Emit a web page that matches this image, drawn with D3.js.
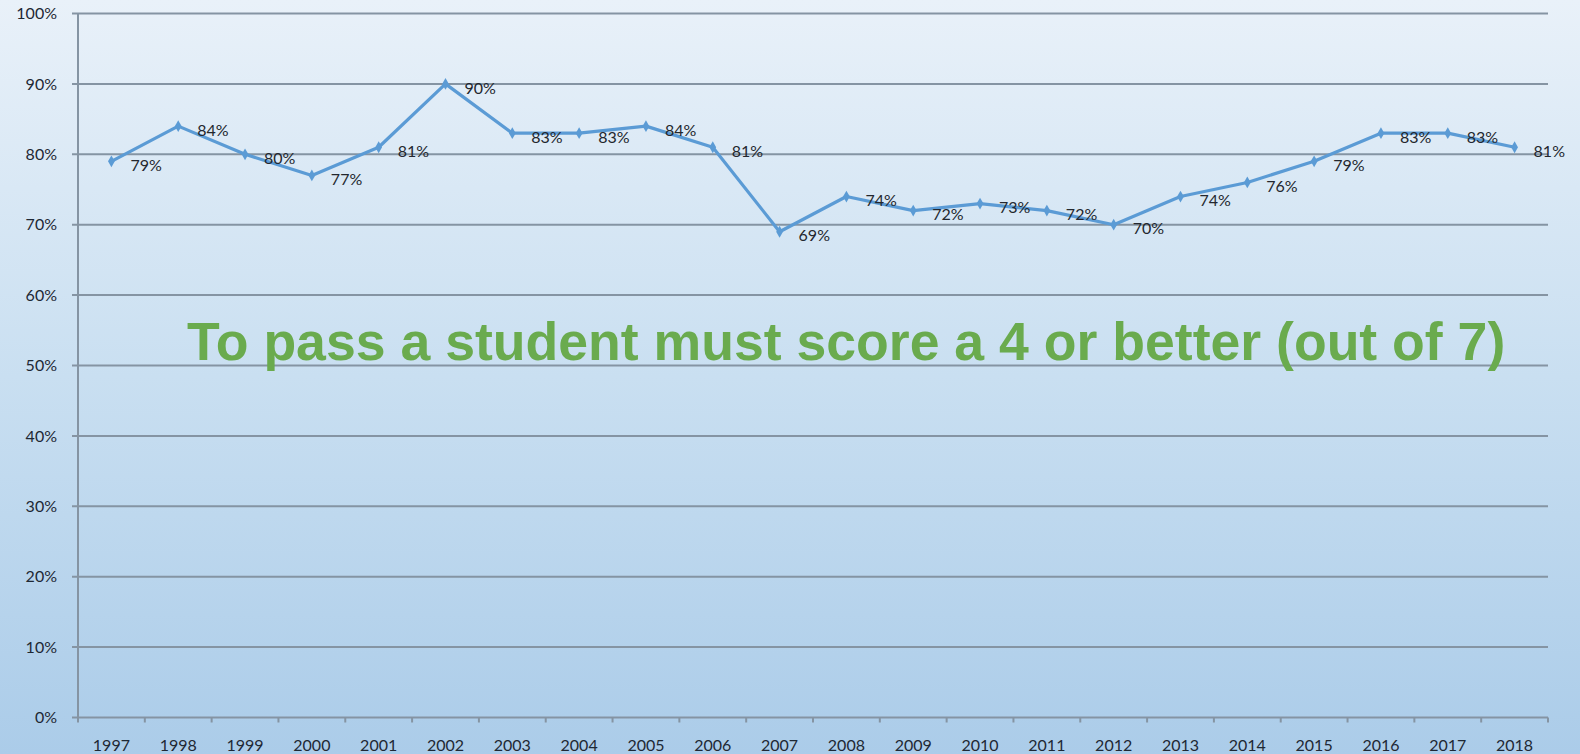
<!DOCTYPE html>
<html>
<head>
<meta charset="utf-8">
<script src="https://cdn.jsdelivr.net/npm/d3@7"></script>
<style>
  html, body { margin: 0; padding: 0; overflow: hidden; }
  body { width: 1580px; height: 754px; }
  svg { display: block; }
</style>
</head>
<body>
<div id="chart"></div>
<script>
// Pass rate by year
const years = ['1997', '1998', '1999', '2000', '2001', '2002', '2003', '2004', '2005', '2006', '2007',
  '2008', '2009', '2010', '2011', '2012', '2013', '2014', '2015', '2016', '2017', '2018'];
const passRate = [79, 84, 80, 77, 81, 90, 83, 83, 84, 81, 69, 74, 72, 73, 72, 70, 74, 76, 79, 83, 83, 81];
const yTicks = [0, 10, 20, 30, 40, 50, 60, 70, 80, 90, 100];
const note = 'To pass a student must score a 4 or better (out of 7)';

const width = 1580;
const height = 754;
const margin = {top: 13.5, right: 32, bottom: 36.5, left: 78};
const labelFont = 'Lato, "Noto Sans", sans-serif';

const svg = d3.select('#chart').append('svg')
  .attr('width', width)
  .attr('height', height);

// background gradient
const defs = svg.append('defs');
const grad = defs.append('linearGradient')
  .attr('id', 'bg')
  .attr('x1', 0).attr('y1', 0).attr('x2', 0).attr('y2', 1);
grad.append('stop').attr('offset', '0%').attr('stop-color', '#e9f1f9');
grad.append('stop').attr('offset', '50%').attr('stop-color', '#c9dff1');
grad.append('stop').attr('offset', '100%').attr('stop-color', '#abcce9');

svg.append('rect')
  .attr('width', width)
  .attr('height', height)
  .attr('fill', 'url(#bg)');

const x = d3.scaleBand()
  .domain(years)
  .range([margin.left, width - margin.right])
  .paddingInner(0)
  .paddingOuter(0);

const y = d3.scaleLinear()
  .domain([0, 100])
  .range([height - margin.bottom, margin.top]);

const cx = d => x(d) + x.bandwidth() / 2;

// gridlines
svg.append('g')
  .selectAll('line')
  .data(yTicks)
  .enter()
  .append('line')
  .attr('x1', margin.left - 6)
  .attr('x2', width - margin.right)
  .attr('y1', d => y(d))
  .attr('y2', d => y(d))
  .style('stroke', '#8594a3')
  .style('stroke-width', 2);

// y axis line
svg.append('line')
  .attr('x1', margin.left).attr('x2', margin.left)
  .attr('y1', y(100)).attr('y2', y(0))
  .style('stroke', '#8594a3')
  .style('stroke-width', 2);

// y tick labels
svg.append('g')
  .selectAll('text')
  .data(yTicks)
  .enter()
  .append('text')
  .attr('x', 57)
  .attr('y', d => y(d))
  .attr('dy', '0.35em')
  .style('text-anchor', 'end')
  .style('font-family', labelFont)
  .style('font-size', '16px')
  .style('fill', '#1e2834')
  .text(d => d + '%');

// x ticks at band edges
const edges = years.map(d => x(d)).concat([x(years[years.length - 1]) + x.bandwidth()]);
svg.append('g')
  .selectAll('line')
  .data(edges)
  .enter()
  .append('line')
  .attr('x1', d => d).attr('x2', d => d)
  .attr('y1', y(0)).attr('y2', y(0) + 5)
  .style('stroke', '#8594a3')
  .style('stroke-width', 2);

// x labels
svg.append('g')
  .selectAll('text')
  .data(years)
  .enter()
  .append('text')
  .attr('x', d => cx(d))
  .attr('y', y(0) + 28)
  .attr('dy', '0.35em')
  .style('text-anchor', 'middle')
  .style('font-family', labelFont)
  .style('font-size', '16px')
  .style('fill', '#1e2834')
  .text(d => d);

// line
const lineBuilder = d3.line()
  .x((d, i) => cx(years[i]))
  .y(d => y(d));

svg.append('path')
  .attr('d', lineBuilder(passRate))
  .style('fill', 'none')
  .style('stroke', '#5b9bd5')
  .style('stroke-width', 3.2)
  .style('stroke-linejoin', 'round');

// markers
svg.append('g')
  .selectAll('path')
  .data(passRate)
  .enter()
  .append('path')
  .attr('d', d3.symbol().type(d3.symbolDiamond).size(40))
  .attr('transform', (d, i) => 'translate(' + cx(years[i]) + ',' + y(d) + ')')
  .style('fill', '#5b9bd5');

// data labels
svg.append('g')
  .selectAll('text')
  .data(passRate)
  .enter()
  .append('text')
  .attr('x', (d, i) => cx(years[i]) + 19)
  .attr('y', d => y(d) + 4)
  .attr('dy', '0.35em')
  .style('font-family', labelFont)
  .style('font-size', '16px')
  .style('fill', '#23272e')
  .text(d => d + '%');

// annotation
svg.append('text')
  .attr('x', 187)
  .attr('y', 360)
  .style('font-family', '"Liberation Sans", Arial, sans-serif')
  .style('font-weight', 'bold')
  .style('font-size', '53.6px')
  .style('fill', '#6aab4e')
  .text(note);
</script>
</body>
</html>
